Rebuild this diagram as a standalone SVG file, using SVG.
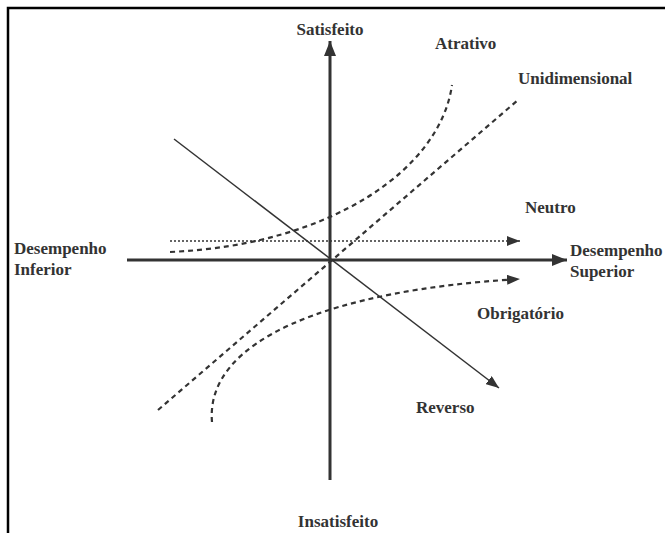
<svg xmlns="http://www.w3.org/2000/svg" width="665" height="533" viewBox="0 0 665 533">
<style>
text{font-family:'Liberation Serif','Times New Roman','DejaVu Serif',serif;font-weight:700;font-size:17px;fill:#333}
.axis{stroke:#333;stroke-width:3;fill:none}
.rev{stroke:#333;stroke-width:1.5;fill:none}
.dash{stroke:#333;stroke-width:2.2;fill:none;stroke-dasharray:5 4}
.dot{stroke:#333;stroke-width:1.4;fill:none;stroke-dasharray:2 2}
</style>
<defs>
<marker id="ah" markerUnits="userSpaceOnUse" markerWidth="16" markerHeight="12" refX="15" refY="6" orient="auto"><path d="M0,0L15,6L0,12z" fill="#333"/></marker>
<marker id="ahs" markerUnits="userSpaceOnUse" markerWidth="14" markerHeight="10" refX="13" refY="5" orient="auto"><path d="M0,0L13,5L0,10z" fill="#333"/></marker>
</defs>
<rect width="665" height="533" fill="#fff"/>
<path d="M8,533V8H665" stroke="#000" stroke-width="2.5" fill="none"/>
<g id="connectors">
<line class="axis" x1="330" y1="480" x2="330" y2="41" marker-end="url(#ah)"/>
<line class="axis" x1="127" y1="260" x2="567" y2="260" marker-end="url(#ah)"/>
<line class="rev" x1="174" y1="139" x2="499" y2="388" marker-end="url(#ahs)"/>
<path class="dash" d="M158,410L518,100"/>
<path class="dash" d="M170,252C330,245 440,170 452,85"/>
<path class="dash" d="M212,422C205,340 330,290 520,279" marker-end="url(#ahs)"/>
<path class="dot" d="M170,241H520" marker-end="url(#ahs)"/>
</g>
<g id="satisfeito"><text x="330" y="35" text-anchor="middle">Satisfeito</text></g>
<g id="insatisfeito"><text x="338" y="527" text-anchor="middle">Insatisfeito</text></g>
<g id="atrativo"><text x="435" y="49">Atrativo</text></g>
<g id="unidimensional"><text x="518" y="84">Unidimensional</text></g>
<g id="neutro"><text x="525" y="213">Neutro</text></g>
<g id="desempenho-superior"><text x="570" y="256">Desempenho</text><text x="570" y="277">Superior</text></g>
<g id="desempenho-inferior"><text x="14" y="254">Desempenho</text><text x="14" y="275">Inferior</text></g>
<g id="obrigatorio"><text x="477" y="319">Obrigatório</text></g>
<g id="reverso"><text x="416" y="413">Reverso</text></g>
</svg>
